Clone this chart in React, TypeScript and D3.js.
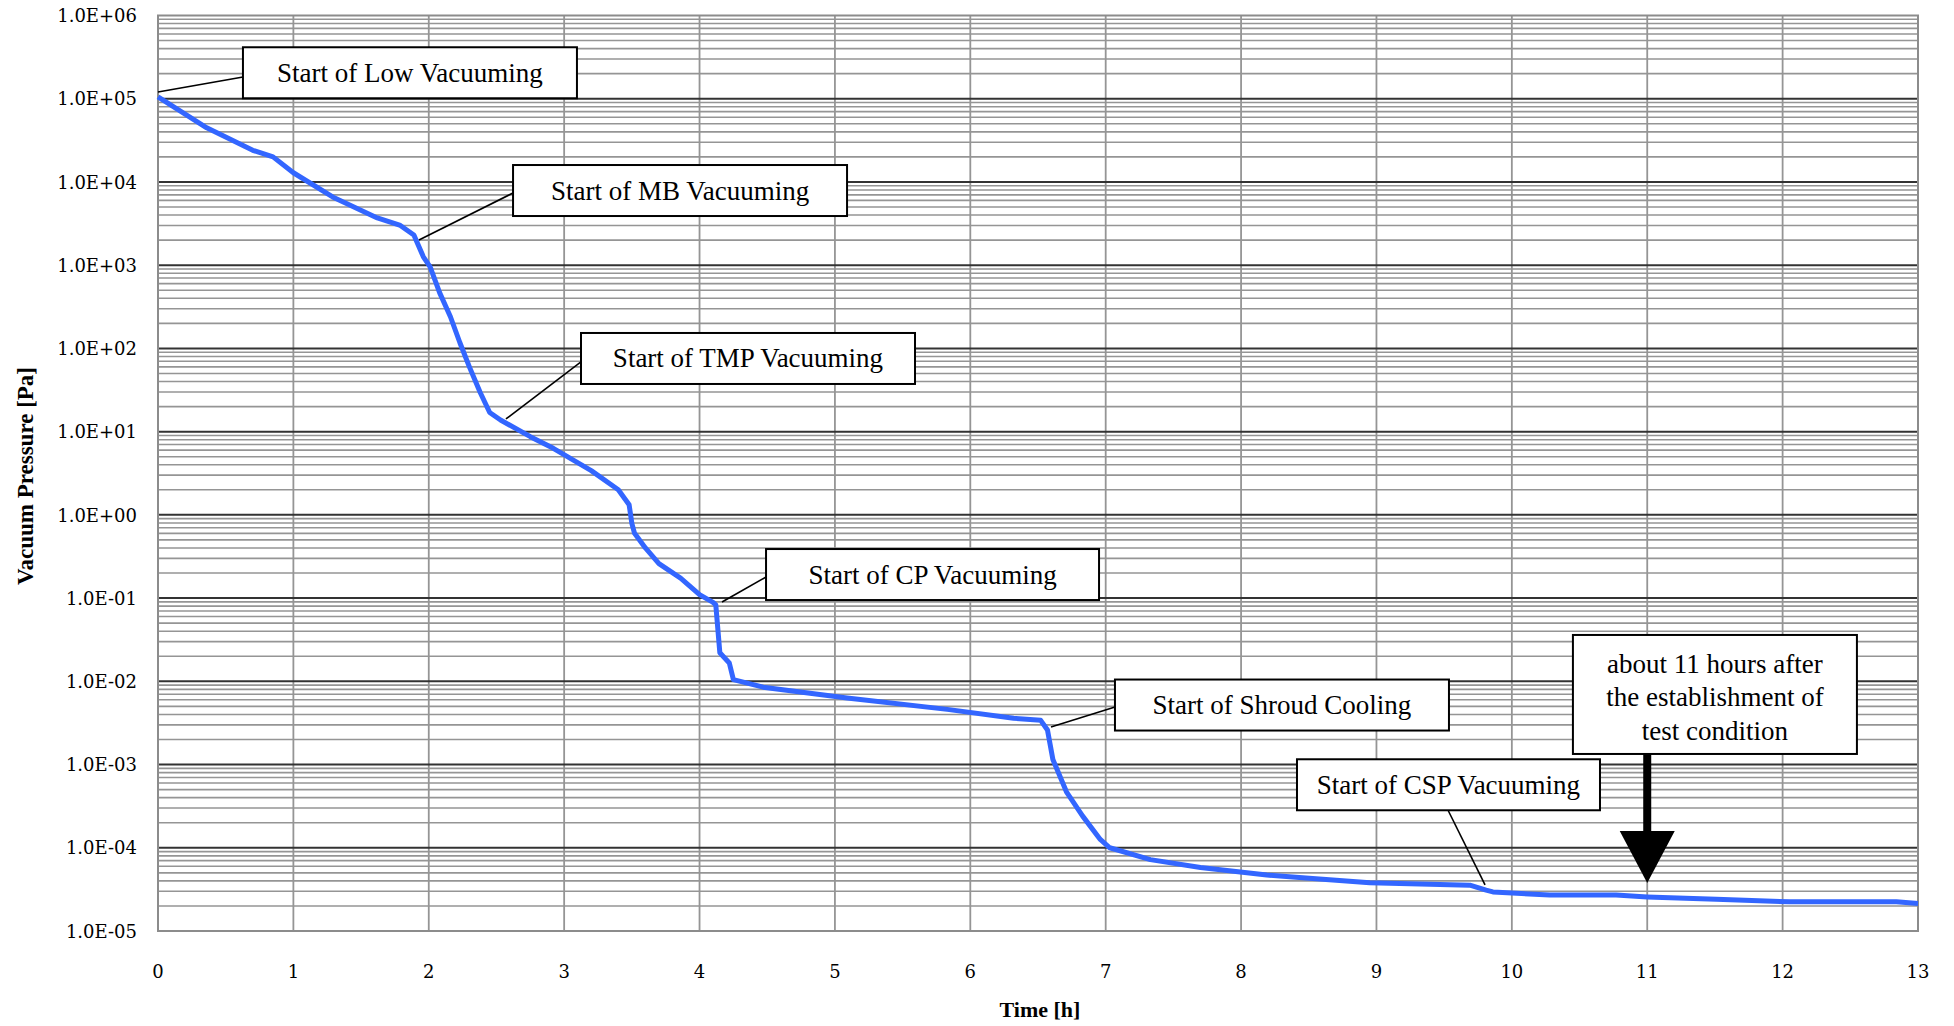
import React from "react";
import * as d3 from "d3";

// ---- data ----
const timeH = [0, 0.36, 0.7, 0.85, 1.0, 1.29, 1.62, 1.79, 1.89, 1.96, 2.01, 2.08, 2.16, 2.23, 2.3, 2.38, 2.45, 2.53, 2.75, 2.92, 3.2, 3.4, 3.48, 3.5, 3.52, 3.6, 3.7, 3.86, 4.0, 4.1, 4.12, 4.15, 4.22, 4.25, 4.47, 5.09, 5.83, 6.32, 6.52, 6.57, 6.61, 6.71, 6.83, 6.96, 7.03, 7.33, 7.7, 8.19, 8.43, 8.95, 9.69, 9.81, 9.86, 10.28, 10.77, 11.0, 11.51, 12.05, 12.84, 13.0];
const pressurePa = [1.05e5, 4.47e4, 2.4e4, 2.0e4, 1.29e4, 6.6e3, 3.7e3, 3.0e3, 2.3e3, 1.26e3, 955, 468, 240, 117, 60, 29.5, 17, 13.8, 8.7, 6.3, 3.4, 2.0, 1.32, 0.79, 0.6, 0.4, 0.26, 0.174, 0.11, 0.089, 0.083, 0.022, 0.0166, 0.0105, 0.0085, 0.0063, 0.0046, 0.0036, 0.0034, 0.0026, 0.00115, 4.7e-4, 2.4e-4, 1.26e-4, 1.0e-4, 7.2e-5, 5.8e-5, 4.7e-5, 4.4e-5, 3.8e-5, 3.55e-5, 3.1e-5, 2.95e-5, 2.7e-5, 2.7e-5, 2.57e-5, 2.4e-5, 2.24e-5, 2.24e-5, 2.14e-5];

const xTicks = d3.range(0, 14);
const yDecades = d3.range(-5, 7);
const yTickLabels = ["1.0E-05", "1.0E-04", "1.0E-03", "1.0E-02", "1.0E-01", "1.0E+00", "1.0E+01", "1.0E+02", "1.0E+03", "1.0E+04", "1.0E+05", "1.0E+06"];

const annLabels = ["Start of Low Vacuuming", "Start of MB Vacuuming", "Start of TMP Vacuuming", "Start of CP Vacuuming", "Start of Shroud Cooling", "Start of CSP Vacuuming"];
// anchor on curve (t, log10 p), leader end (t, log10 p), box center (t, log10 p)
const annAnchorT = [0, 1.928, 2.57, 4.166, 6.596, 9.802];
const annAnchorLogP = [5.081, 3.303, 1.152, -1.047, -2.549, -4.447];
const annEndT = [0.628, 2.622, 3.124, 4.491, 7.069, 9.528];
const annEndLogP = [5.261, 3.867, 1.837, -0.747, -2.309, -3.546];
const annBoxT = [1.861, 3.856, 4.358, 5.721, 8.302, 9.532];
const annBoxLogP = [5.312, 3.897, 1.879, -0.717, -2.285, -3.243];
const annBoxW = [334, 334, 334, 333, 334, 303];

const noteLines = ["about 11 hours after", "the establishment of", "test condition"];
const noteBoxT = 11.5;
const noteBoxLogP = -2.158;
const noteArrowT = 11;
const noteArrowTipLogP = -4.423;

// ---- layout ----
const W = 1954, H = 1026;
const L = 158, R = 1918, T = 15.5, B = 931;

export default function App() {
  const x = d3.scaleLinear().domain([0, 13]).range([L, R]);
  const y = d3.scaleLog().domain([1e-5, 1e6]).range([B, T]);
  const ly = (lp: number) => y(Math.pow(10, lp));

  const pts: [number, number][] = timeH.map((t, i) => [t, pressurePa[i]]);
  const line = d3.line<[number, number]>().x(d => x(d[0])).y(d => y(d[1]));

  const minor: number[] = [];
  yDecades.slice(0, -1).forEach(e => {
    for (let k = 2; k <= 9; k++) minor.push(k * Math.pow(10, e));
  });

  const serif = "'DejaVu Serif', serif";
  const times = "'Liberation Serif', 'Times New Roman', serif";

  const nbw = 284, nbh = 119;
  const nbx = x(noteBoxT) - nbw / 2;
  const nby = ly(noteBoxLogP) - nbh / 2;
  const ax = x(noteArrowT);
  const tipY = ly(noteArrowTipLogP);
  const headTop = tipY - 52;

  return (
    <svg width={W} height={H} style={{ position: "absolute", left: 0, top: 0, background: "#fff" }}>
      <rect x={0} y={0} width={W} height={H} fill="#fff" />
      {/* minor horizontal grid */}
      {minor.map((v, i) => (
        <line key={"m" + i} x1={L} x2={R} y1={y(v)} y2={y(v)} stroke="#959595" strokeWidth={1.6} />
      ))}
      {/* vertical grid */}
      {xTicks.slice(1, -1).map(t => (
        <line key={"v" + t} x1={x(t)} x2={x(t)} y1={T} y2={B} stroke="#959595" strokeWidth={1.8} />
      ))}
      {/* major horizontal grid */}
      {yDecades.slice(1, -1).map(e => (
        <line key={"M" + e} x1={L} x2={R} y1={y(Math.pow(10, e))} y2={y(Math.pow(10, e))} stroke="#333" strokeWidth={2} />
      ))}
      {/* frame */}
      <rect x={L} y={T} width={R - L} height={B - T} fill="none" stroke="#8c8c8c" strokeWidth={2} />

      {/* y tick labels */}
      {yDecades.map((e, i) => (
        <text key={"yl" + e} x={137} y={y(Math.pow(10, e))} dy="0.37em" textAnchor="end" fontFamily={serif} fontSize={18} fill="#000">
          {yTickLabels[i]}
        </text>
      ))}
      {/* x tick labels */}
      {xTicks.map(t => (
        <text key={"xl" + t} x={x(t)} y={978} textAnchor="middle" fontFamily={serif} fontSize={18} fill="#000">
          {t}
        </text>
      ))}

      {/* axis titles */}
      <text x={1040} y={1017} textAnchor="middle" fontFamily={times} fontWeight="bold" fontSize={22}>Time [h]</text>
      <text transform={`translate(33,476) rotate(-90)`} textAnchor="middle" fontFamily={times} fontWeight="bold" fontSize={23}>Vacuum Pressure [Pa]</text>

      {/* curve */}
      <path d={line(pts) || ""} fill="none" stroke="#3366ff" strokeWidth={5} strokeLinejoin="round" />

      {/* leader lines */}
      {annLabels.map((_, i) => (
        <line key={"ld" + i} x1={x(annAnchorT[i])} y1={ly(annAnchorLogP[i])} x2={x(annEndT[i])} y2={ly(annEndLogP[i])} stroke="#000" strokeWidth={1.6} />
      ))}
      {/* annotation boxes */}
      {annLabels.map((lab, i) => {
        const cx = x(annBoxT[i]);
        const cy = ly(annBoxLogP[i]);
        const w = annBoxW[i];
        const h = 51;
        return (
          <g key={"ab" + i}>
            <rect x={cx - w / 2} y={cy - h / 2} width={w} height={h} fill="#fff" stroke="#000" strokeWidth={2} />
            <text x={cx} y={cy + 9} textAnchor="middle" fontFamily={times} fontSize={27} fill="#000">{lab}</text>
          </g>
        );
      })}

      {/* note box with arrow */}
      <rect x={ax - 4} y={nby + nbh} width={8} height={headTop - (nby + nbh) + 1} fill="#000" />
      <path d={`M${ax - 27.5},${headTop} L${ax + 27.5},${headTop} L${ax},${tipY} Z`} fill="#000" />
      <rect x={nbx} y={nby} width={nbw} height={nbh} fill="#fff" stroke="#000" strokeWidth={2} />
      {noteLines.map((s, i) => (
        <text key={"n" + i} x={nbx + nbw / 2} y={nby + 38 + i * 33.5} textAnchor="middle" fontFamily={times} fontSize={27} fill="#000">{s}</text>
      ))}
    </svg>
  );
}
